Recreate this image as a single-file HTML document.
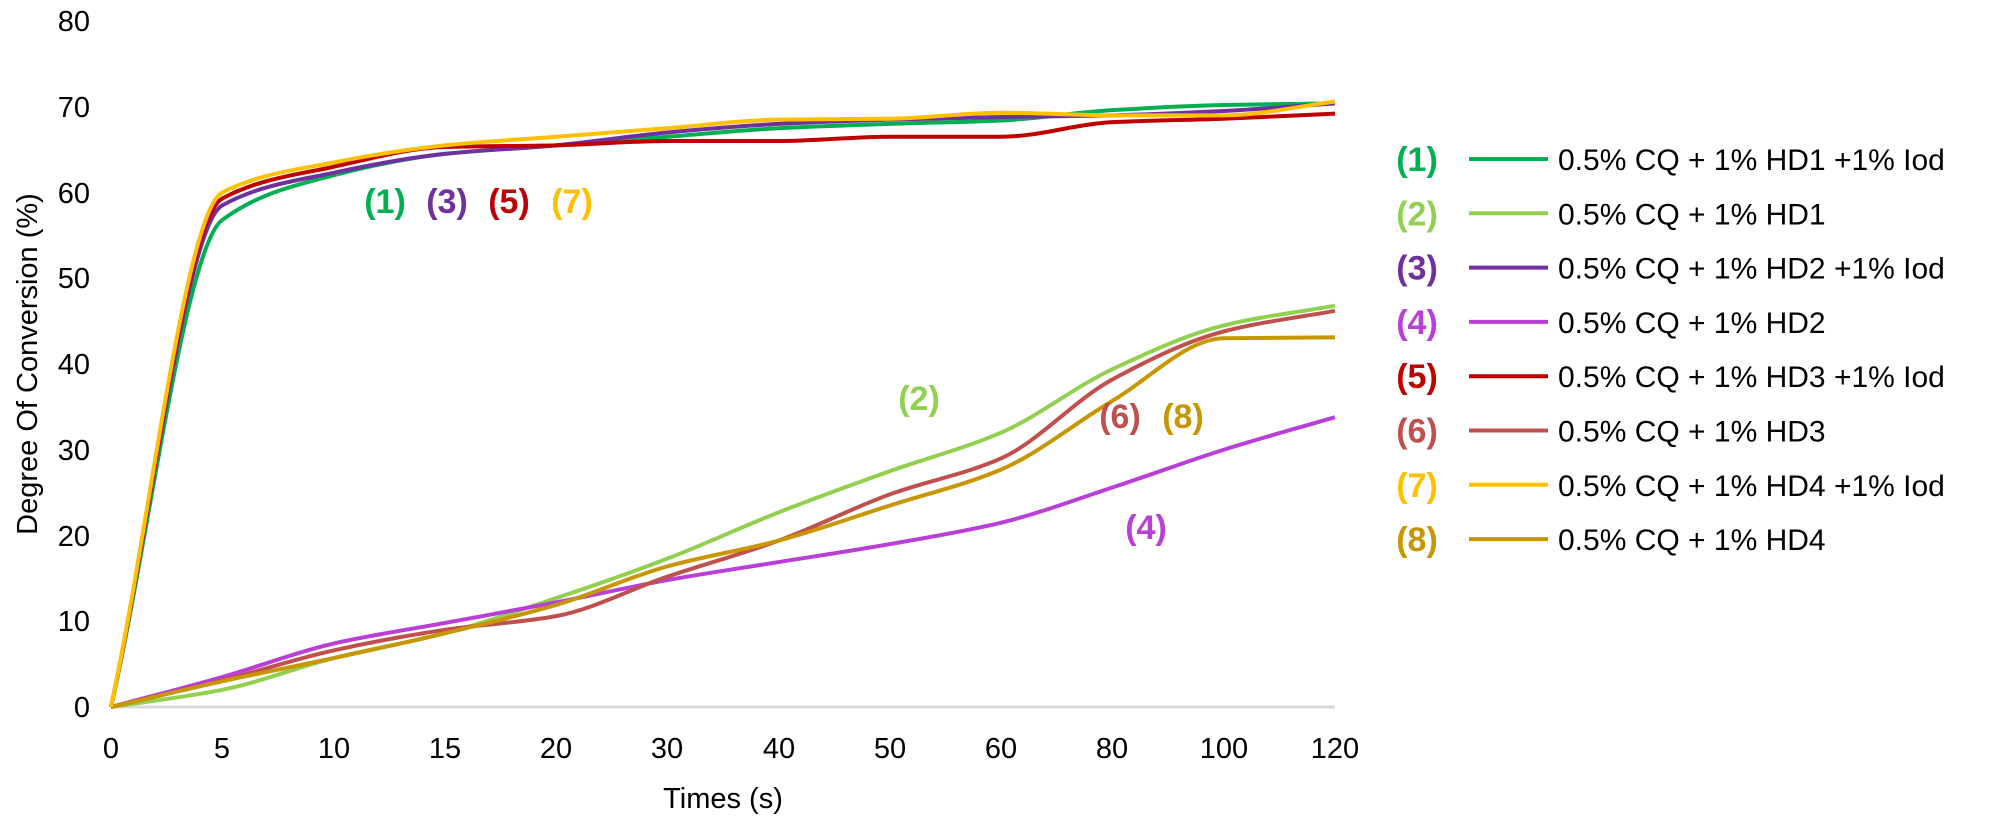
<!DOCTYPE html>
<html><head><meta charset="utf-8"><style>
html,body{margin:0;padding:0;background:#fff;}
svg{display:block;}
text{font-family:"Liberation Sans",sans-serif;}
.t{font-size:29px;fill:#000;}
.lb{font-size:34px;font-weight:bold;}
</style></head><body>
<svg id="s" width="2006" height="820" viewBox="0 0 2006 820" xmlns="http://www.w3.org/2000/svg">
<line x1="111" y1="707" x2="1335" y2="707" stroke="#d9d9d9" stroke-width="3"/>
<g class="t" text-anchor="end">
<text x="90" y="31">80</text><text x="90" y="117">70</text><text x="90" y="203">60</text><text x="90" y="288">50</text>
<text x="90" y="374">40</text><text x="90" y="460">30</text><text x="90" y="546">20</text><text x="90" y="631">10</text><text x="90" y="717">0</text>
</g>
<g class="t" text-anchor="middle">
<text x="111" y="758">0</text><text x="222" y="758">5</text><text x="334" y="758">10</text><text x="445" y="758">15</text>
<text x="556" y="758">20</text><text x="667" y="758">30</text><text x="779" y="758">40</text><text x="890" y="758">50</text>
<text x="1001" y="758">60</text><text x="1112" y="758">80</text><text x="1224" y="758">100</text><text x="1335" y="758">120</text>
<text x="723" y="808">Times (s)</text>
<text transform="translate(37,364) rotate(-90)">Degree Of Conversion (%)</text>
</g>
<g id="curves" fill="none" stroke-width="4" stroke-linejoin="round"></g>
<g class="lb" text-anchor="middle">
<text x="385" y="213" fill="#00b050">(1)</text>
<text x="447" y="213" fill="#7030a0">(3)</text>
<text x="509" y="213" fill="#c00000">(5)</text>
<text x="572" y="213" fill="#ffc000">(7)</text>
<text x="919" y="410" fill="#92d050">(2)</text>
<text x="1120" y="428" fill="#c0504d">(6)</text>
<text x="1183" y="428" fill="#c89600">(8)</text>
<text x="1146" y="539" fill="#b93fd6">(4)</text>
</g>
<g id="leg"></g>
</svg>
<script>
var X=function(i){return 111+111.27*i;},Y=function(v){return 707-8.575*v;};
var S=[
["#92d050",[0,2,5.7,8.6,12.7,17.3,22.7,27.5,32,39.4,44.5,46.8]],
["#b93fd6",[0,3.5,7.4,9.8,12.2,14.8,16.9,19,21.5,25.6,30,33.8]],
["#c0504d",[0,3.1,6.6,9,10.6,15.2,19.4,24.8,29,38.2,43.8,46.2]],
["#c89600",[0,3,5.7,8.6,11.9,16.4,19.4,23.5,27.7,35.7,43,43.1]],
["#00b050",[0,56.8,62,64.5,65.5,66.5,67.5,68,68.4,69.6,70.2,70.4]],
["#7030a0",[0,58.5,62.3,64.5,65.5,67,68,68.5,68.8,69,69.5,70.4]],
["#c00000",[0,59.3,63,65.3,65.5,66,66,66.5,66.5,68.2,68.6,69.2]],
["#ffc000",[0,60,63.5,65.5,66.5,67.5,68.5,68.6,69.3,69,69,70.6]]
];
var g=document.getElementById('curves'),ns="http://www.w3.org/2000/svg";
S.forEach(function(s){
 var y=s[1].map(Y),n=y.length,h=111.27,d=[],m=[];
 for(var i=0;i<n-1;i++)d.push((y[i+1]-y[i])/h);
 m[0]=d[0];m[n-1]=d[n-2];
 for(var i=1;i<n-1;i++){ if(d[i-1]*d[i]<=0)m[i]=0; else {var w1=2*h+h,w2=h+2*h;m[i]=(w1+w2)/(w1/d[i-1]+w2/d[i]);} }
 var p="M"+X(0)+","+y[0];
 for(var i=0;i<n-1;i++){
  p+=" C"+(X(i)+h/3)+","+(y[i]+m[i]*h/3)+" "+(X(i+1)-h/3)+","+(y[i+1]-m[i+1]*h/3)+" "+X(i+1)+","+y[i+1];
 }
 var e=document.createElementNS(ns,"path");e.setAttribute("d",p);e.setAttribute("stroke",s[0]);g.appendChild(e);
});
var L=[["(1)","#00b050","0.5% CQ + 1% HD1 +1% Iod"],["(2)","#92d050","0.5% CQ + 1% HD1"],["(3)","#7030a0","0.5% CQ + 1% HD2 +1% Iod"],["(4)","#b93fd6","0.5% CQ + 1% HD2"],["(5)","#c00000","0.5% CQ + 1% HD3 +1% Iod"],["(6)","#c0504d","0.5% CQ + 1% HD3"],["(7)","#ffc000","0.5% CQ + 1% HD4 +1% Iod"],["(8)","#c89600","0.5% CQ + 1% HD4"]];
var lg=document.getElementById('leg'),hh="";
L.forEach(function(l,i){var y=159+54.3*i;
 hh+='<text x="1417" y="'+(y+12)+'" text-anchor="middle" fill="'+l[1]+'" style="font-size:34px;font-weight:bold">'+l[0]+'</text>';
 hh+='<line x1="1469" y1="'+y+'" x2="1548" y2="'+y+'" stroke="'+l[1]+'" stroke-width="4"/>';
 hh+='<text x="1558" y="'+(y+11)+'" style="font-size:30px" fill="#000">'+l[2]+'</text>';});
lg.innerHTML=hh;
</script>
</body></html>
